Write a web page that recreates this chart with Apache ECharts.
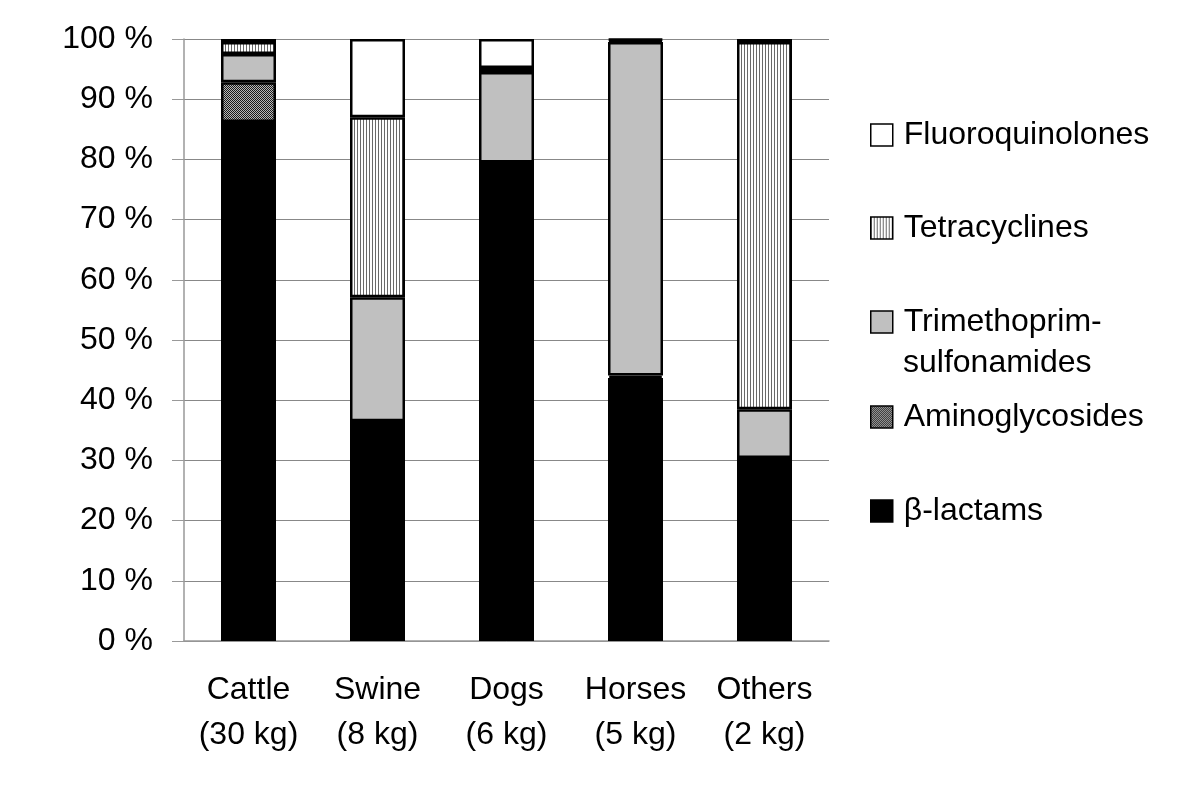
<!DOCTYPE html>
<html>
<head>
    <meta charset="utf-8">
    <title>Antimicrobial use by animal species</title>
    <script src="https://cdn.jsdelivr.net/npm/echarts@6/dist/echarts.min.js"></script>
    <style>
        html, body { margin: 0; padding: 0; background: #fff; }
        #main { width: 1200px; height: 794px; }
    </style>
</head>
<body>
    <div id="main"></div>
    <script>
        // data (share of total, %)
        const categories = ['Cattle', 'Swine', 'Dogs', 'Horses', 'Others'];
        const weights = ['(30 kg)', '(8 kg)', '(6 kg)', '(5 kg)', '(2 kg)'];
        const betaLactams = [86.2, 36.5, 79.5, 43.7, 30.4];
        const aminoglycosides = [6.6, 0, 0, 0.4, 0];
        const trimSulfa = [4.7, 20.6, 15.0, 55.4, 8.1];
        const tetracyclines = [2.0, 29.9, 0.7, 0.3, 61.0];
        const fluoroquinolones = [0.5, 13.0, 4.8, 0.2, 0.5];
        const yTicks = [0, 10, 20, 30, 40, 50, 60, 70, 80, 90, 100];

        const FONT = '"Liberation Sans", Arial, sans-serif';

        // fill patterns
        function stripes() {
            const c = document.createElement('canvas');
            c.width = 3; c.height = 4;
            const g = c.getContext('2d');
            g.fillStyle = '#fff'; g.fillRect(0, 0, 3, 4);
            g.fillStyle = '#6a6a6a'; g.fillRect(0, 0, 1, 4);
            return c;
        }
        function dither() {
            const c = document.createElement('canvas');
            c.width = 2; c.height = 2;
            const g = c.getContext('2d');
            g.fillStyle = '#b8b8b8'; g.fillRect(0, 0, 2, 2);
            g.fillStyle = '#1a1a1a';
            g.fillRect(0, 0, 1, 1);
            g.fillRect(1, 1, 1, 1);
            return c;
        }

        const chart = echarts.init(document.getElementById('main'));

        function bar(name, data, fill) {
            return {
                name: name,
                type: 'bar',
                stack: 'total',
                data: data,
                barWidth: 55,
                itemStyle: { color: fill, borderColor: '#000', borderWidth: 2.5 },
                emphasis: { disabled: true }
            };
        }

        function legendAt(name, centerY) {
            return {
                data: [name],
                left: 870,
                top: centerY - 18,
                padding: 0,
                icon: 'rect',
                itemWidth: 22,
                itemHeight: 22,
                itemStyle: { borderWidth: 1.5 },
                formatter: n => n === 'Trimethoprim-sulfonamides' ? 'Trimethoprim-' : n,
                textStyle: { fontFamily: FONT, fontSize: 32, lineHeight: 36, color: '#000', padding: [0, 0, 0, 6] }
            };
        }

        chart.setOption({
            animation: false,
            grid: { left: 184, right: 371, top: 39, bottom: 153 },
            legend: [
                legendAt('Fluoroquinolones', 135),
                legendAt('Tetracyclines', 228),
                legendAt('Trimethoprim-sulfonamides', 322),
                legendAt('Aminoglycosides', 417),
                legendAt('β-lactams', 511)
            ],
            graphic: [{
                type: 'text',
                left: 903,
                top: 347,
                style: { text: 'sulfonamides', font: '32px ' + FONT, fill: '#000' }
            }],
            xAxis: {
                type: 'category',
                data: categories,
                axisLine: { lineStyle: { color: '#999', width: 1.5 } },
                axisTick: { length: 12, lineStyle: { color: '#999', width: 1.5 } },
                axisLabel: {
                    interval: 0,
                    hideOverlap: false,
                    margin: 27,
                    fontFamily: FONT,
                    fontSize: 32,
                    lineHeight: 45,
                    color: '#000',
                    formatter: (v, i) => v + '\n' + weights[i]
                }
            },
            yAxis: {
                type: 'value',
                min: 0,
                max: 100,
                interval: 10,
                axisLine: { show: true, lineStyle: { color: '#999', width: 1.5 } },
                axisTick: { show: true, length: 12, lineStyle: { color: '#999', width: 1 } },
                splitLine: { lineStyle: { color: '#888', width: 1 } },
                axisLabel: {
                    margin: 31,
                    fontFamily: FONT,
                    fontSize: 32,
                    color: '#000',
                    formatter: v => yTicks.includes(v) ? v + ' %' : ''
                }
            },
            series: [
                bar('β-lactams', betaLactams, '#000'),
                bar('Aminoglycosides', aminoglycosides, { image: dither(), repeat: 'repeat' }),
                bar('Trimethoprim-sulfonamides', trimSulfa, '#c0c0c0'),
                bar('Tetracyclines', tetracyclines, { image: stripes(), repeat: 'repeat' }),
                bar('Fluoroquinolones', fluoroquinolones, '#fff')
            ]
        });
    </script>
</body>
</html>
